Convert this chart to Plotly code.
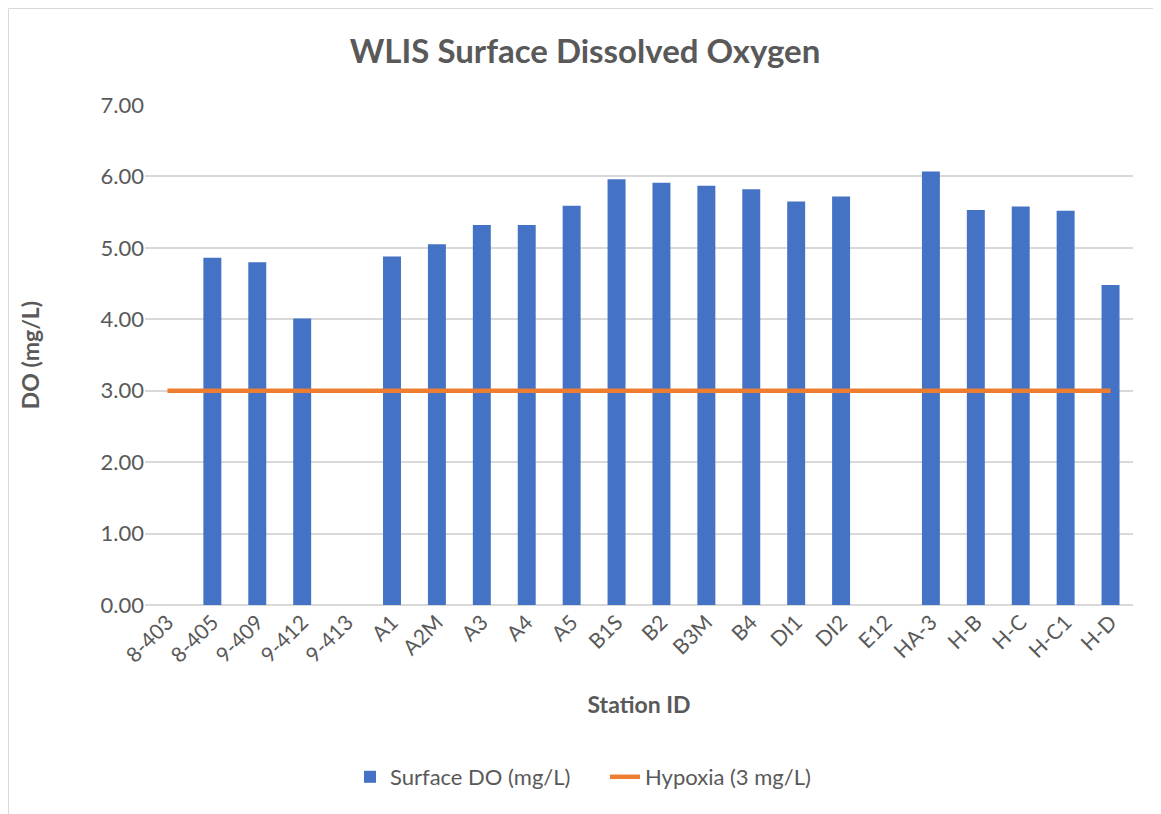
import plotly.graph_objects as go

stations = ["8-403", "8-405", "9-409", "9-412", "9-413", "A1", "A2M", "A3", "A4", "A5",
            "B1S", "B2", "B3M", "B4", "DI1", "DI2", "E12", "HA-3", "H-B", "H-C", "H-C1", "H-D"]
surface_do = [None, 4.86, 4.80, 4.01, None, 4.88, 5.05, 5.32, 5.32, 5.59,
              5.96, 5.91, 5.87, 5.82, 5.65, 5.72, None, 6.07, 5.53, 5.58, 5.52, 4.48]
hypoxia = [3] * len(stations)

OFF = 8  # page body margin
W, H = 1161 - OFF, 814 - OFF
PL, PT, PR, PB = 145, 105, 1133, 605  # plot area in page pixels
L, T = PL - OFF, PT - OFF
pw, ph = PR - PL, PB - PT
R, B = W - L - pw, H - T - ph

def px_x(p):
    return (p - PL) / pw

def px_y(p):
    return (PB - p) / ph

fig = go.Figure()
fig.add_trace(go.Bar(x=stations, y=surface_do, name="Surface DO (mg/L)",
                     marker=dict(color="#4472C4", line=dict(width=0))))
fig.add_trace(go.Scatter(x=stations, y=hypoxia, name="Hypoxia (3 mg/L)", mode="lines",
                         line=dict(color="#ED7D31", width=4.5)))

font = "Lato, Open Sans, sans-serif"
grey = "#595959"
fig.update_layout(
    width=W, height=H,
    margin=dict(l=L, r=R, t=T, b=B),
    paper_bgcolor="white", plot_bgcolor="white",
    bargap=0.6,
    font=dict(family=font, color=grey, size=19),
    title=dict(text="<b>WLIS Surface Dissolved Oxygen</b>", x=(585 - OFF) / W, xanchor="center",
               xref="container", y=1 - (51 - OFF) / H, yref="container", yanchor="middle",
               font=dict(size=33, color=grey, family=font)),
    xaxis=dict(tickangle=-45, showgrid=False, showline=False, zeroline=False,
               tickfont=dict(size=21, color=grey),
               title=dict(text="<b>Station ID</b>", font=dict(size=23, color=grey), standoff=31)),
    yaxis=dict(range=[0, 7], dtick=1, tickformat=".2f", showgrid=True, gridcolor="#D9D9D9",
               gridwidth=1.5, zeroline=True, zerolinecolor="#D9D9D9", zerolinewidth=1.5,
               showline=False, ticks="", ticklen=0,
               tickfont=dict(size=22, color=grey),
               title=dict(text="<b>DO (mg/L)</b>", font=dict(size=23, color=grey), standoff=54)),
    legend=dict(orientation="h", x=px_x(350), xanchor="left", y=px_y(777), yanchor="middle",
                font=dict(size=22, color=grey), entrywidth=210, entrywidthmode="pixels"),
    showlegend=True,
)
fig.add_shape(type="rect", xref="paper", yref="paper",
              x0=px_x(OFF + 0.5), x1=px_x(1200), y0=px_y(900), y1=px_y(OFF + 0.5),
              line=dict(color="#D9D9D9", width=1), fillcolor="rgba(0,0,0,0)", layer="below")

fig.write_html("out.html")
